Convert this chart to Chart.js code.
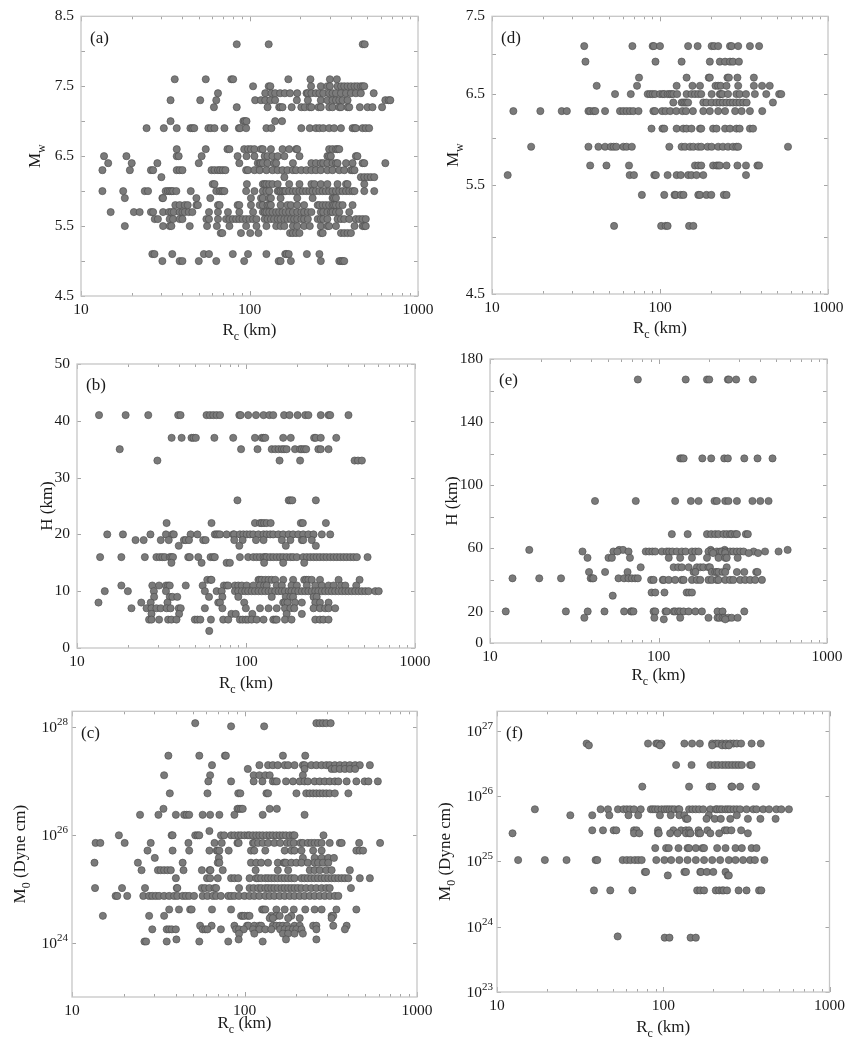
<!DOCTYPE html>
<html>
<head>
<meta charset="utf-8">
<script src="https://cdn.jsdelivr.net/npm/chart.js@4.4.0/dist/chart.umd.min.js"></script>
<style>
  body { margin: 0; background: #fff; width: 850px; height: 1045px; position: relative; overflow: hidden; }
  canvas { position: absolute; }
</style>
</head>
<body>
<canvas id="pa"></canvas>
<canvas id="pb"></canvas>
<canvas id="pc"></canvas>
<canvas id="pd"></canvas>
<canvas id="pe"></canvas>
<canvas id="pf"></canvas>
<script>
// x axis (all panels): Rc in km, log scale
const rcTicks = [10, 20, 30, 40, 50, 60, 70, 80, 90, 100, 200, 300, 400, 500, 600, 700, 800, 900, 1000];
const rcLabels = [10, 100, 1000];

// (a) Mw levels and the Rc values on each level
const mwA = [8.1, 7.6, 7.5, 7.4, 7.3, 7.2, 7.0, 6.9, 6.6, 6.5, 6.4, 6.3, 6.2, 6.1, 6.0, 5.9, 5.8, 5.7, 5.6, 5.5, 5.4, 5.1, 5.0];
const rcA = [
  [84, 130, 470, 483],
  [36, 55, 78, 80, 170, 230, 300, 330],
  [105, 130, 133, 232, 265, 290, 300, 333, 350, 365, 382, 400, 420, 437, 458, 470, 480],
  [65, 124, 135, 142, 152, 162, 174, 192, 218, 222, 233, 248, 260, 274, 297, 311, 326, 349, 374, 400, 428, 458, 546],
  [34, 51, 63.5, 108, 117, 124, 133, 142, 191, 222, 265, 290, 311, 326, 341, 357, 382, 640, 670, 685],
  [61.5, 84, 128, 150, 153, 157, 178, 203, 213, 228, 233, 257, 265, 297, 311, 341, 349, 382, 391, 452, 502, 537, 612],
  [34, 92, 94, 96, 142, 156],
  [24.5, 31, 37, 44.6, 45.8, 47, 57, 59, 62, 71, 86.5, 88, 95.5, 126, 135, 203, 228, 248, 260, 274, 297, 318, 349, 409, 420, 428, 469, 490, 513],
  [37, 55, 74, 76, 93, 98, 102, 107, 117, 120, 134, 157, 172, 189, 192, 297, 311, 326, 333, 341],
  [13.7, 18.6, 37, 38, 52, 85, 96, 107, 123, 128, 137, 147, 161, 198, 290, 297, 304, 428, 437],
  [14.5, 20, 28.4, 50, 87, 112, 115, 117, 120, 128, 140, 144, 181, 233, 248, 265, 274, 290, 311, 326, 333, 374, 409, 469, 480, 640],
  [13.4, 19.5, 26, 26.8, 37, 38.5, 40, 59.5, 62, 65, 67, 69.5, 72, 95.5, 98, 107, 115, 126, 137, 147, 157, 168, 181, 189, 203, 218, 233, 248, 265, 290, 311, 341, 365, 400, 409, 420],
  [30, 161, 458, 480, 502, 525, 550],
  [60.5, 62, 96.5, 120, 123, 126, 131, 137, 147, 172, 198, 233, 243, 265, 290, 333, 374, 382, 480],
  [13.4, 17.8, 23.9, 25, 31.8, 32.8, 33.6, 34.4, 35.2, 36.8, 44.8, 63.5, 66.5, 68, 69.5, 71, 95.5, 107, 120, 126, 131, 147, 150, 153, 157, 161, 164, 172, 181, 189, 198, 207, 217, 227, 237, 248, 260, 272, 284, 297, 311, 326, 341, 357, 374, 391, 409, 420, 480, 550],
  [18.2, 30.4, 30.7, 48.4, 58.5, 102, 117, 120, 131, 134, 153, 192, 237, 311, 318, 326],
  [36.3, 38.5, 41.3, 43, 48.4, 49.4, 65, 66.5, 85, 87, 102, 115, 120, 128, 131, 134, 153, 168, 176, 192, 211, 254, 260, 272, 284, 297, 311, 318, 326, 341, 357, 409],
  [15, 20.6, 22.3, 26, 26.8, 30.7, 33.3, 34.4, 35.5, 38.5, 40, 41.3, 43.6, 45.8, 57.5, 65, 74.5, 87, 105, 120, 123, 126, 131, 137, 144, 150, 157, 164, 172, 181, 192, 203, 211, 222, 233, 265, 274, 290, 304, 311, 326, 341, 391],
  [27.4, 28.6, 33.6, 35.2, 38.5, 40, 55.5, 57.5, 65, 72.6, 76, 79.6, 83.4, 87, 91, 95.5, 100, 105, 110, 123, 128, 134, 140, 147, 153, 161, 168, 176, 184, 192, 203, 211, 222, 254, 265, 274, 290, 333, 349, 365, 391, 428, 448, 469, 490],
  [18.2, 30.7, 33.6, 34.4, 44.2, 56, 64, 76, 95.5, 110, 126, 144, 153, 161, 181, 192, 211, 228, 265, 290, 297, 326, 420, 469, 480, 490],
  [67.5, 69, 89, 101, 113, 174, 181, 189, 198, 265, 272, 349, 365, 382, 400],
  [26.5, 27.3, 34.8, 53.6, 57.5, 79.6, 98, 126, 163, 166, 171, 219, 260],
  [30.4, 38.5, 40, 50, 63.5, 93, 149, 153, 176, 265, 341, 349, 357, 365]
];
const mwTicksA = [4.5, 5, 5.5, 6, 6.5, 7, 7.5, 8, 8.5];
const mwLabelsA = [4.5, 5.5, 6.5, 7.5, 8.5];

// (b) depth H levels (km)
const hB = [41, 37, 35, 33, 26, 22, 20, 19, 18, 16, 15, 12, 11, 10, 9, 8, 7, 6, 5, 3];
const rcB = [
  [13.5, 19.4, 26.4, 39.7, 41, 58.4, 61.2, 64, 67, 70.2, 91.3, 93, 103, 114.6, 127, 137.5, 145, 168, 181, 202, 224, 234, 277, 308, 315, 404],
  [36.3, 41.6, 47.6, 48.9, 50.5, 65, 84, 113, 124, 127, 130, 166, 184, 253, 259, 277, 342],
  [17.9, 93.5, 117, 142, 149, 156, 163, 168, 174, 195, 209, 214, 221, 227, 268, 277, 308],
  [29.9, 158, 209, 439, 460, 485],
  [89, 179, 183, 188, 259],
  [33.9, 62.5, 113, 121, 124, 128, 132.6, 140, 211, 217, 297],
  [15.1, 18.7, 27.2, 33.6, 36.7, 37.4, 47, 51.6, 65.4, 67, 68.5, 70.2, 76.8, 84, 85.2, 92, 96.5, 101, 105.6, 110.5, 118.5, 127, 132.6, 139, 145, 155.5, 166, 179, 190, 204, 218, 234, 251, 281, 315],
  [22.2, 24.8, 31.3, 34.9, 42.9, 44, 46, 55.8, 57.7, 85.2, 95.5, 114.6, 127, 163, 183, 214, 218, 245],
  [40, 91.3, 172, 259],
  [13.7, 18.3, 25.2, 29.5, 30.9, 32, 33.1, 35.4, 36.2, 37, 45.5, 46.5, 52.2, 61.7, 64, 65.4, 92, 103, 110.5, 115.7, 121, 127, 130, 132.6, 139, 145, 152, 159, 166, 174, 183, 190, 200, 218, 229, 240, 251, 262, 274, 287, 300, 315, 330, 345, 361, 378, 395, 414, 433, 453, 524],
  [36.2, 54.6, 76.8, 80.3, 128, 166, 221],
  [59, 61.7, 62.5, 118.5, 121, 124, 130, 136, 142, 149, 166, 190, 221, 227, 234, 245, 274, 353, 470],
  [18.3, 27.9, 30.6, 33.6, 34.6, 35.4, 44, 55.4, 74, 76.8, 78.5, 86, 90, 94.5, 101, 110.5, 121, 128, 132.6, 152, 163, 186, 200, 229, 257, 281, 308, 330, 365, 387, 449],
  [14.6, 20, 28.5, 33.6, 57.1, 67, 71.8, 86, 90, 94.5, 99, 103, 108, 113, 118.5, 124, 130, 136, 142, 149, 156, 163, 170, 179, 186, 195, 204, 214, 224, 234, 245, 257, 268, 281, 294, 308, 322, 337, 353, 370, 387, 404, 423, 443, 464, 485, 508, 531, 582, 610],
  [28.6, 35.4, 36.7, 39.2, 60.4, 72.5, 90, 142, 172, 183, 190, 251, 262],
  [13.4, 24, 27.3, 34.3, 68.5, 70.2, 97.6, 166, 170, 176, 195, 214, 257, 274, 308],
  [21, 25.8, 27.6, 29.5, 31.3, 33.9, 35.8, 40, 41.1, 57.1, 72.5, 99.8, 121, 136, 152, 170, 183, 193, 251, 274, 294, 308, 337],
  [27.6, 40.2, 82, 87, 109, 174, 214],
  [26.7, 27.6, 30.6, 34.6, 36.2, 38.8, 49.8, 51.6, 53.7, 62, 73.3, 78.5, 92, 95.5, 99.8, 103, 108, 115.7, 127, 145, 149, 152, 170, 186, 257, 274, 287, 308],
  [60.6]
];
const hTicksB = [0, 10, 20, 30, 40, 50];
const hLabelsB = [0, 10, 20, 30, 40, 50];

// (c) seismic moment M0 levels (dyne cm)
const moC = [1.2e28, 1.05e28, 3e27, 2e27, 1.7e27, 1.3e27, 1e27, 6e26, 3.1e26, 2.4e26, 1.2e26, 1e26, 7.2e25, 5.2e25, 3.8e25, 3.1e25, 2.25e25, 1.6e25, 1.05e25, 7.5e24, 4.2e24, 3.2e24, 2.9e24, 2.1e24, 1.8e24, 1.5e24, 1.17e24, 1.07e24];
const rcC = [
  [51.8, 261, 273, 285, 298, 316],
  [83.6, 130],
  [36.2, 54.7, 77, 78, 167, 225],
  [64.8, 122, 137, 146, 156, 171, 179, 195, 218, 223, 244, 261, 280, 298, 312, 334, 357, 382, 408, 438, 466, 533],
  [104.5, 223, 320, 334, 357, 382, 408, 438],
  [34.2, 63.2, 113, 122, 132, 140, 218],
  [61.7, 83.6, 113, 127, 146, 150.5, 154, 174, 191, 209, 223, 233, 255, 273, 292, 312, 334, 350, 391, 445, 497, 523, 593],
  [36.9, 61, 92, 94.6, 134, 137, 200, 228, 239, 250, 261, 273, 285, 298, 312, 334, 400],
  [33.9, 91, 93, 95.5, 97.7, 140, 154],
  [24.8, 31.7, 40, 44.7, 46.2, 47.8, 57.2, 63.2, 71.5, 87.4, 127.5, 223],
  [62.6],
  [18.7, 37.8, 38.3, 51.8, 53.4, 54.7, 73, 76.3, 83.6, 87.4, 92, 95.5, 100, 104.5, 107, 112, 117, 122, 127.5, 134, 140, 146, 153, 160, 167, 174, 183, 191, 195, 287],
  [13.7, 14.6, 20.2, 28.6, 47.3, 67, 73.8, 91, 92.5, 112, 114, 120, 127.5, 137, 149, 161, 176.5, 185, 193, 211, 218, 233, 244, 255, 267, 280, 312, 357, 366, 462, 611],
  [27.4, 38.3, 47.8, 62.6, 69, 70, 71.5, 81, 109, 114, 132, 171, 187, 195, 214, 250, 280, 445, 466, 487],
  [30.2, 71, 218, 255, 280, 306, 330],
  [13.5, 24.1, 43.8, 70, 71.5, 109, 117, 125, 137, 156, 169, 171, 174, 187, 200, 214, 233, 255, 267, 285, 306],
  [25.3, 31.5, 32.7, 34.2, 35.8, 37.4, 44.3, 56.6, 62.8, 63.5, 74.8, 116, 156, 179, 239, 255, 273, 298, 320, 408],
  [40, 60.6, 63.2, 70, 83.6, 87.4, 92, 107, 117, 120, 125, 132, 137, 143, 149, 156, 164, 171, 179, 187, 195, 214, 223, 233, 244, 255, 267, 280, 292, 306, 320, 334, 350, 366, 382, 400, 466, 533],
  [13.6, 19.5, 26.5, 40.5, 40.8, 56.6, 59, 62.6, 67, 68.5, 93, 107, 113, 120, 125, 132, 137, 143, 149, 156, 164, 171, 179, 187, 195, 204, 214, 228, 244, 261, 280, 298, 312, 414],
  [17.9, 18.3, 20.9, 25.9, 28, 29.2, 30.6, 32, 34.2, 36.6, 39.1, 40.8, 43.8, 45.7, 47.8, 51, 57.2, 61, 65.6, 68.5, 73, 80.5, 83.6, 87.4, 93, 100, 107, 114, 122, 132, 140, 149, 160, 171, 183, 195, 209, 223, 239, 255, 273, 292, 312, 334, 350],
  [36.6, 41.7, 48.4, 49.4, 64.8, 83.6, 126.5, 129, 132, 153, 171, 193, 225, 255, 280, 341, 445],
  [15.1, 28, 34.2, 95.5, 97.7, 100, 104.5, 107, 143, 153, 160, 187, 320, 327],
  [140, 146, 179, 209, 320],
  [55.3, 64.5, 87.4, 103.5, 105.5, 114, 122, 125, 146, 153, 160, 167, 176.5, 195, 209, 250, 261, 327, 391],
  [29.2, 35.4, 36.6, 37.9, 40, 57.2, 59.3, 61, 73, 89.3, 93, 99, 112, 122, 132, 143, 161, 171, 180.5, 191, 200, 214, 261, 382],
  [93, 114, 167, 179, 195, 218],
  [40.3, 92.5, 174, 261],
  [26.3, 26.9, 35.4, 54.7, 80.5, 127.5]
];
const moTicksC = [1e24, 1e26, 1e28];

// (d) Mw levels
const mwD = [7.1, 6.9, 6.7, 6.6, 6.5, 6.4, 6.3, 6.1, 5.9, 5.7, 5.6, 5.4, 5.1];
const rcD = [
  [35.4, 68.5, 90.4, 92, 100, 147, 167.5, 203, 210, 222, 261, 267, 292, 343, 389],
  [36, 94, 134.5, 198, 227, 244, 261, 272, 295],
  [75, 144, 195, 198, 252, 257, 289, 362],
  [42, 73, 125.6, 156, 173, 214, 222, 230, 249, 292, 362, 405, 450],
  [54, 67, 84.5, 87.4, 90.4, 93.5, 100, 104, 106, 111, 114, 117, 120, 126.5, 144, 154, 161.5, 169, 176, 203, 227, 230, 235, 254, 285, 298, 325, 367, 429, 512, 527],
  [120, 134.5, 137.6, 141, 144, 147, 181, 189, 203, 217, 227, 237, 249, 261, 272, 285, 298, 313, 328, 470],
  [13.4, 19.4, 26, 27.9, 37.5, 38.4, 40.2, 41.2, 47.1, 57.8, 60.5, 63.3, 66.3, 69.4, 74.5, 91.3, 93.5, 103, 108, 115, 125, 136, 143, 157, 181, 198, 222, 244, 280, 306, 343, 406],
  [89, 103.4, 106, 125.6, 137.6, 144, 154, 173, 176, 207, 217, 244, 261, 285, 298, 343, 358],
  [17.1, 37.5, 43, 47.1, 51, 53, 55, 60.5, 63.3, 68, 113.6, 134.5, 141, 151, 158, 169, 176, 192, 203, 222, 237, 254, 272, 285, 292, 578],
  [38.4, 48, 65.4, 161.5, 169, 176, 207, 217, 222, 227, 249, 289, 325, 380, 389],
  [12.4, 66, 70, 92.5, 94.5, 111, 125.6, 133, 147, 154, 165, 181, 325],
  [78, 106, 122, 124, 133, 138, 169, 173, 189, 202, 240, 249],
  [53.3, 101.6, 108, 111, 149, 158]
];
const mwTicksD = [4.5, 5, 5.5, 6, 6.5, 7, 7.5];
const mwLabelsD = [4.5, 5.5, 6.5, 7.5];

// (e) depth H levels (km)
const hE = [167, 117, 90, 69, 59, 58, 57, 54, 48, 45, 41, 40, 32, 30, 20, 16, 15];
const rcE = [
  [75.4, 145, 194, 200, 258, 262, 289, 363],
  [134.5, 137.6, 141, 182, 205.5, 245.6, 258, 323, 387, 475],
  [42, 73.3, 125.6, 155.6, 173, 215, 222, 249, 260, 292, 361, 402, 450],
  [120, 149, 194, 205.5, 217, 227, 243, 254, 266, 272, 285, 292, 330, 339],
  [17.1, 58.4, 61.6, 204, 247, 584],
  [35.4, 54, 57, 66.4, 84, 88, 92, 95.7, 104.8, 112, 115.7, 121, 128.5, 137.6, 145, 158, 165.5, 173, 198, 207, 222, 232, 237.6, 249, 266, 278, 292, 305.5, 320, 367, 429, 516],
  [211, 249, 343, 390],
  [37.9, 50.5, 52.9, 67.7, 115, 134.5, 158, 194, 227, 249, 254, 295],
  [78.4, 123, 131, 137.6, 151, 169, 177, 184.6, 198, 202, 254],
  [38.7, 48.2, 65.5, 161.5, 165.5, 207, 217, 222, 227, 240, 249, 292, 323, 380, 387],
  [13.6, 19.6, 26.4, 39.6, 40.5, 41.1, 57.9, 62.5, 66.4, 69.5, 72.7, 75.4],
  [90.4, 93.5, 106, 107.5, 115, 125.6, 137.6, 141, 158, 169, 177, 198, 207, 222, 227, 249, 266, 278, 305.5, 327, 350, 375, 411],
  [91, 95.7, 108.5, 147, 152, 158],
  [53.5],
  [12.4, 28.2, 38, 47.8, 62.5, 68.6, 69.5, 71, 93.5, 95.7, 110, 112, 123, 125.6, 131, 134.5, 141, 151, 165.5, 181, 224, 240, 323],
  [36.3, 94.5, 134.5, 198, 224, 230, 240, 246, 260, 272, 295],
  [107.5, 249]
];
const hTicksE = [0, 20, 40, 60, 80, 100, 120, 140, 160, 180];
const hLabelsE = [0, 20, 60, 100, 140, 180];

// (f) M0 levels (dyne cm)
const moF = [6.4e26, 6e26, 3e26, 1.4e26, 6.3e25, 5.1e25, 4.5e25, 3e25, 2.7e25, 1.6e25, 1.05e25, 6.9e24, 6.1e24, 3.6e24, 7.1e23, 6.8e23];
const rcF = [
  [34.6, 81, 90.8, 93, 97.7, 134, 149, 166, 197, 207, 214, 226, 239, 253, 265, 277, 294, 340, 386],
  [35.7, 95.5, 197, 226, 237, 248],
  [119.5, 148, 192, 204, 214, 226, 237, 248, 260, 272, 284, 297, 333, 340],
  [74.8, 143, 190, 197, 257, 260, 290, 361],
  [16.9, 42, 46.5, 53.4, 57.7, 60.4, 63.2, 66.7, 73.2, 84.2, 86.7, 89.5, 93, 97.7, 102, 105.5, 109, 113, 117, 123, 125, 143, 150, 157, 164.5, 174, 192, 207, 211, 219, 226, 237, 245, 253, 265, 277, 290, 317, 348, 364, 399, 433, 479, 513, 570],
  [27.6, 37.4, 47.4, 61.8, 70.7, 95.5, 111, 125, 134, 188, 277],
  [137, 140, 182, 204, 222, 253, 323, 384, 474],
  [37.4, 43.4, 50.3, 52.2, 66.7, 69.2, 93, 115, 128, 137, 143, 163, 184.5, 234, 242, 257, 294],
  [12.4, 66.7, 71.8, 93, 94, 110, 122, 137, 143, 146, 163, 167, 192, 217, 323],
  [89.5, 104, 108, 123.5, 140, 143, 157, 172, 176, 211, 237, 272, 297, 340, 364],
  [13.4, 19.4, 26.2, 39.2, 40.1, 57, 60.4, 63.6, 67.5, 70.7, 74.2, 90.8, 101.6, 111.6, 125, 140, 157, 176, 197, 220, 248, 272, 302, 333, 356, 406],
  [77.5, 78.8, 134, 137, 167, 169, 183, 200, 237],
  [106.5, 244, 248],
  [38.3, 48, 65.2, 160, 167, 176, 207, 217, 226, 231, 242, 284, 317, 377, 389],
  [53.2],
  [102, 109, 146, 157]
];
const moTicksF = [1e23, 1e24, 1e25, 1e26, 1e27];

const SERIF = '"Liberation Serif", "Times New Roman", serif';
const TXT = '#1a1a1a';
const rcTitle = [['R', 17, 0], ['c', 12, 5], [' (km)', 17, 0]];

function toPoints(levels, rows) {
  const out = [];
  levels.forEach((lv, i) => rows[i].forEach(x => out.push({ x: x, y: lv })));
  return out;
}

// draw a run of text pieces [text, size, dy]; dy shifts subscripts/superscripts
function richText(ctx, parts, x, y, align, rotate) {
  let w = 0;
  parts.forEach(p => { ctx.font = p[1] + 'px ' + SERIF; w += ctx.measureText(p[0]).width; });
  ctx.save();
  ctx.translate(x, y);
  if (rotate) ctx.rotate(-Math.PI / 2);
  let cx = align === 'right' ? -w : -w / 2;
  ctx.textAlign = 'left';
  ctx.textBaseline = 'alphabetic';
  ctx.fillStyle = TXT;
  parts.forEach(p => {
    ctx.font = p[1] + 'px ' + SERIF;
    ctx.fillText(p[0], cx, p[2]);
    cx += ctx.measureText(p[0]).width;
  });
  ctx.restore();
}

const framePlugin = {
  id: 'frame',
  afterDatasetsDraw(chart) {
    const cfg = chart.options.plugins.frame;
    const { ctx, chartArea: a, scales } = chart;
    ctx.save();
    ctx.strokeStyle = '#a5a5a5';
    ctx.lineWidth = 1;
    ctx.beginPath();
    scales.x.ticks.forEach(t => {
      const px = Math.round(scales.x.getPixelForValue(t.value)) + 0.5;
      const len = rcLabels.includes(t.value) ? 5 : 3;
      ctx.moveTo(px, a.bottom); ctx.lineTo(px, a.bottom - len);
      ctx.moveTo(px, a.top); ctx.lineTo(px, a.top + len);
    });
    scales.y.ticks.forEach(t => {
      const py = Math.round(scales.y.getPixelForValue(t.value)) + 0.5;
      ctx.moveTo(a.left, py); ctx.lineTo(a.left + 4, py);
      ctx.moveTo(a.right, py); ctx.lineTo(a.right - 4, py);
    });
    ctx.stroke();
    ctx.strokeStyle = '#c6c6c6';
    ctx.lineWidth = 1.3;
    ctx.strokeRect(a.left, a.top, a.right - a.left, a.bottom - a.top);
    ctx.restore();
  },
  afterDraw(chart) {
    const cfg = chart.options.plugins.frame;
    const { ctx, chartArea: a, scales } = chart;
    // panel letter
    ctx.save();
    ctx.font = '17px ' + SERIF;
    ctx.fillStyle = TXT;
    ctx.textBaseline = 'middle';
    ctx.fillText(cfg.letter, a.left + 9, a.top + 22);
    ctx.restore();
    // power-of-ten tick labels
    if (cfg.sup) {
      scales.y.ticks.forEach(t => {
        const py = scales.y.getPixelForValue(t.value);
        const e = Math.round(Math.log10(t.value));
        richText(ctx, [['10', 15.5, 0], [String(e), 11, -7]], a.left - 4, py + 5, 'right', false);
      });
    }
    // axis titles
    richText(ctx, rcTitle, (a.left + a.right) / 2, a.bottom + cfg.xTitleDy + 5, 'center', false);
    richText(ctx, cfg.yTitle, a.left - cfg.yTitleDx + 5, (a.top + a.bottom) / 2, 'center', true);
  }
};

const panels = [
  { id: 'pa', left: 0, top: 0, w: 445, h: 345, yw: 81, pt: 11, pr: 27, xh: 49, letter: '(a)',
    levels: mwA, rows: rcA, yType: 'linear', yMin: 4.5, yMax: 8.5, yTicks: mwTicksA, yLabels: mwLabelsA,
    fmt: v => v.toFixed(1), yTitle: [['M', 17, 0], ['w', 12, 5]], yTitleDx: 46, xTitleDy: 34 },
  { id: 'pb', left: 0, top: 338, w: 445, h: 357, yw: 77, pt: 26, pr: 30, xh: 47, letter: '(b)',
    levels: hB, rows: rcB, yType: 'linear', yMin: 0, yMax: 50, yTicks: hTicksB, yLabels: hLabelsB,
    fmt: v => String(v), yTitle: [['H (km)', 17, 0]], yTitleDx: 30, xTitleDy: 35 },
  { id: 'pc', left: 0, top: 695, w: 445, h: 350, yw: 72, pt: 13, pr: 28, xh: 48, letter: '(c)',
    levels: moC, rows: rcC, yType: 'logarithmic', yMin: 1e23, yMax: Math.pow(10, 28.3), yTicks: moTicksC, yLabels: [],
    sup: true, fmt: v => '', yTitle: [['M', 17, 0], ['0', 12, 5], [' (Dyne cm)', 17, 0]], yTitleDx: 52, xTitleDy: 26 },
  { id: 'pd', left: 425, top: 0, w: 425, h: 345, yw: 67, pt: 10, pr: 22, xh: 51, letter: '(d)',
    levels: mwD, rows: rcD, yType: 'logarithmic', yMin: 4.5, yMax: 7.5, yTicks: mwTicksD, yLabels: mwLabelsD,
    fmt: v => v.toFixed(1), yTitle: [['M', 17, 0], ['w', 12, 5]], yTitleDx: 39, xTitleDy: 34 },
  { id: 'pe', left: 425, top: 338, w: 425, h: 357, yw: 65, pt: 21, pr: 23, xh: 52, letter: '(e)',
    levels: hE, rows: rcE, yType: 'linear', yMin: 0, yMax: 180, yTicks: hTicksE, yLabels: hLabelsE,
    fmt: v => String(v), yTitle: [['H (km)', 17, 0]], yTitleDx: 38, xTitleDy: 32 },
  { id: 'pf', left: 425, top: 695, w: 425, h: 350, yw: 72, pt: 13, pr: 16, xh: 53, letter: '(f)',
    levels: moF, rows: rcF, yType: 'logarithmic', yMin: 1e23, yMax: Math.pow(10, 27.3), yTicks: moTicksF, yLabels: [],
    sup: true, fmt: v => '', yTitle: [['M', 17, 0], ['0', 12, 5], [' (Dyne cm)', 17, 0]], yTitleDx: 52, xTitleDy: 35 }
];

Chart.defaults.font.family = SERIF;
Chart.defaults.color = TXT;

panels.forEach(p => {
  const cv = document.getElementById(p.id);
  cv.style.left = p.left + 'px';
  cv.style.top = p.top + 'px';
  cv.width = p.w;
  cv.height = p.h;
  new Chart(cv, {
    type: 'scatter',
    data: {
      datasets: [{
        data: toPoints(p.levels, p.rows),
        pointRadius: 3.6,
        pointBackgroundColor: '#7a7a7a',
        pointBorderColor: '#4a4a4a',
        pointBorderWidth: 0.6
      }]
    },
    options: {
      responsive: false,
      animation: false,
      layout: { padding: { left: 0, top: p.pt, right: p.pr, bottom: 0 } },
      plugins: {
        legend: { display: false },
        tooltip: { enabled: false },
        frame: { letter: p.letter, sup: p.sup, yTitle: p.yTitle, yTitleDx: p.yTitleDx, xTitleDy: p.xTitleDy }
      },
      scales: {
        x: {
          type: 'logarithmic', min: 10, max: 1000,
          afterBuildTicks: s => { s.ticks = rcTicks.map(v => ({ value: v })); },
          afterFit: s => { s.height = p.xh; },
          grid: { display: false, drawTicks: false },
          border: { display: false },
          ticks: { autoSkip: false, maxRotation: 0, padding: 5, color: TXT, font: { size: 15.5 },
            callback: v => rcLabels.includes(v) ? String(v) : '' }
        },
        y: {
          type: p.yType, min: p.yMin, max: p.yMax,
          afterBuildTicks: s => { s.ticks = p.yTicks.map(v => ({ value: v })); },
          afterFit: s => { s.width = p.yw; },
          grid: { display: false, drawTicks: false },
          border: { display: false },
          ticks: { autoSkip: false, padding: 7, color: TXT, font: { size: 15.5 },
            callback: v => p.yLabels.includes(v) ? p.fmt(v) : '' }
        }
      }
    },
    plugins: [framePlugin]
  });
});
</script>
</body>
</html>
